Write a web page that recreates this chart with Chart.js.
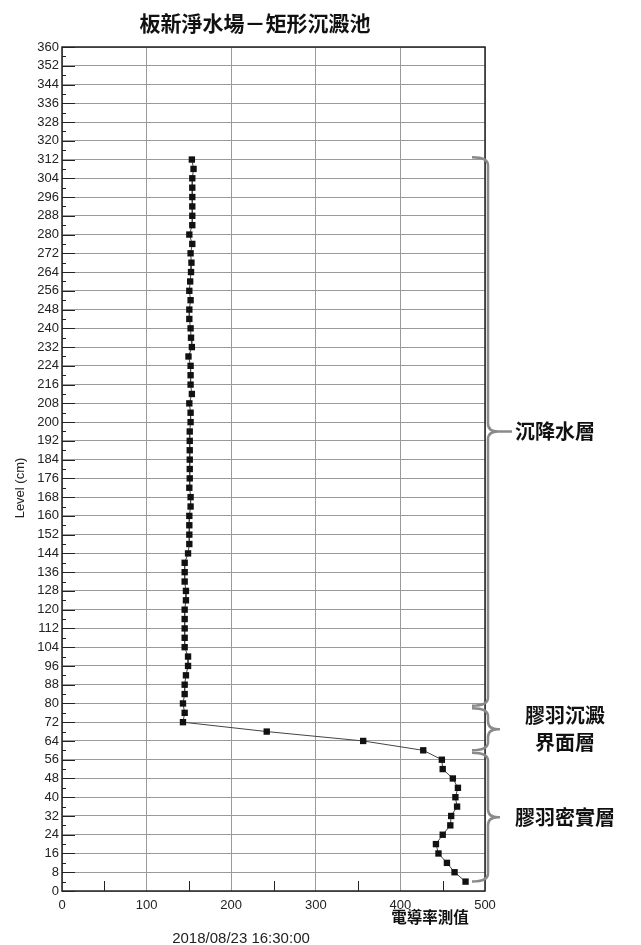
<!DOCTYPE html>
<html>
<head>
<meta charset="utf-8">
<script src="https://cdn.jsdelivr.net/npm/chart.js@4.4.0/dist/chart.umd.min.js"></script>
<style>
  html, body { margin: 0; padding: 0; background: #fff; }
  #wrap { width: 641px; height: 945px; }
</style>
</head>
<body>
<div id="wrap"><canvas id="chart" width="641" height="945"></canvas></div>
<script>
// level of each reading (cm), top to bottom
const levels = [
  312, 308, 304, 300, 296, 292, 288, 284, 280, 276, 272, 268, 264, 260, 256, 252,
  248, 244, 240, 236, 232, 228, 224, 220, 216, 212, 208, 204, 200, 196, 192, 188,
  184, 180, 176, 172, 168, 164, 160, 156, 152, 148, 144, 140, 136, 132, 128, 124,
  120, 116, 112, 108, 104, 100, 96, 92, 88, 84, 80, 76, 72, 68, 64, 60,
  56, 52, 48, 44, 40, 36, 32, 28, 24, 20, 16, 12, 8, 4
];
// conductivity reading at each level
const conductivity = [
  153.5, 155.5, 154, 154, 154, 154, 154, 154, 150.5, 154, 152, 153, 152.5, 151.5, 150.5, 152,
  150.5, 150.5, 152, 152.5, 153.5, 149.5, 152, 152, 152, 153.5, 150.5, 152, 152, 151, 151, 151,
  151, 151, 151, 150.5, 152, 152, 150.5, 150.5, 150.5, 150.5, 149, 145, 145, 145, 146.5, 146.5,
  145, 145, 145, 145, 145, 149, 149, 146.5, 145, 145, 143, 145, 143, 242, 356, 427,
  449, 450, 462, 468, 465, 467, 460, 459, 450, 442, 445, 455, 464, 477
];

const xTickLabels = [0, 100, 200, 300, 400, 500];
const yLabelStep = 8;

// layer brackets on the right side
const layerNames = [['沉降水層'], ['膠羽沉澱', '界面層'], ['膠羽密實層']];
const layerRanges = [[313, 79], [78, 60], [59, 4]];

const chartTitle = '板新淨水場－矩形沉澱池';
const xTitle = '電導率測值';
const yTitle = 'Level (cm)';
const timeStamp = '2018/08/23 16:30:00';

const CJK = "'Noto Sans CJK TC', 'Noto Sans CJK SC', sans-serif";
const LATIN = "'Liberation Sans', Arial, sans-serif";

const points = levels.map((lv, i) => ({ x: conductivity[i], y: lv }));

const decorPlugin = {
  id: 'decor',
  afterDraw(chart) {
    const ctx = chart.ctx;
    const area = chart.chartArea;
    const xs = chart.scales.x;
    const ys = chart.scales.y;
    ctx.save();

    // inward tick marks
    ctx.strokeStyle = '#222';
    ctx.lineWidth = 1;
    ys.ticks.forEach(t => {
      const y = Math.round(ys.getPixelForValue(t.value)) + 0.5;
      const len = t.value % yLabelStep === 0 ? 13 : 4;
      ctx.beginPath();
      ctx.moveTo(area.left, y);
      ctx.lineTo(area.left + len, y);
      ctx.stroke();
    });
    xs.ticks.forEach(t => {
      if (xTickLabels.includes(t.value)) return;
      const x = Math.round(xs.getPixelForValue(t.value)) + 0.5;
      ctx.beginPath();
      ctx.moveTo(x, area.bottom);
      ctx.lineTo(x, area.bottom - 10);
      ctx.stroke();
    });

    // plot frame
    ctx.strokeStyle = '#222';
    ctx.lineWidth = 1.5;
    ctx.strokeRect(area.left, area.top, area.right - area.left, area.bottom - area.top);

    // title
    ctx.fillStyle = '#111';
    ctx.textAlign = 'center';
    ctx.textBaseline = 'middle';
    ctx.font = 'bold 21px ' + CJK;
    ctx.fillText(chartTitle, 255, 23);

    // axis titles
    ctx.font = 'bold 15.5px ' + CJK;
    ctx.fillText(xTitle, 430, 917);
    ctx.font = '15px ' + LATIN;
    ctx.fillStyle = '#222';
    ctx.fillText(timeStamp, 241, 939);

    ctx.save();
    ctx.translate(20, 488);
    ctx.rotate(-Math.PI / 2);
    ctx.font = '13px ' + LATIN;
    ctx.fillText(yTitle, 0, 0);
    ctx.restore();

    // braces
    const bx = area.right + 3;
    ctx.strokeStyle = '#8a8a8a';
    ctx.lineWidth = 2.5;
    layerRanges.forEach((r, i) => {
      const yTop = ys.getPixelForValue(r[0]);
      const yBot = ys.getPixelForValue(r[1]);
      const yMid = (yTop + yBot) / 2;
      const c = Math.min(8, (yBot - yTop) / 4);
      const tip = i === 0 ? 24 : 12;
      ctx.beginPath();
      ctx.moveTo(bx - 16, yTop);
      ctx.quadraticCurveTo(bx, yTop, bx, yTop + c);
      ctx.lineTo(bx, yMid - c);
      ctx.quadraticCurveTo(bx, yMid, bx + 10, yMid);
      ctx.lineTo(bx + tip, yMid);
      ctx.moveTo(bx + 10, yMid);
      ctx.quadraticCurveTo(bx, yMid, bx, yMid + c);
      ctx.lineTo(bx, yBot - c);
      ctx.quadraticCurveTo(bx, yBot, bx - 16, yBot);
      ctx.stroke();

      ctx.fillStyle = '#111';
      ctx.font = 'bold 20px ' + CJK;
      const names = layerNames[i];
      const lh = 27;
      names.forEach((n, k) => {
        const y = yMid + (k - (names.length - 1) / 2) * lh;
        ctx.textAlign = i === 0 ? 'left' : 'center';
        ctx.fillText(n, i === 0 ? 515 : 565, y);
      });
    });

    ctx.restore();
  }
};

new Chart(document.getElementById('chart'), {
  type: 'scatter',
  data: {
    datasets: [{
      data: points,
      showLine: true,
      borderColor: '#444',
      borderWidth: 1,
      pointStyle: 'rect',
      pointRadius: 4.5,
      pointBackgroundColor: '#111',
      pointBorderColor: '#111',
      pointBorderWidth: 0,
      tension: 0
    }]
  },
  plugins: [decorPlugin],
  options: {
    responsive: false,
    animation: false,
    devicePixelRatio: 1,
    layout: { padding: { left: 0, top: 47, right: 156, bottom: 24 } },
    plugins: {
      legend: { display: false },
      title: { display: false },
      tooltip: { enabled: false }
    },
    scales: {
      x: {
        type: 'linear',
        min: 0,
        max: 500,
        afterFit: s => { s.height = 30; },
        ticks: {
          stepSize: 50,
          autoSkip: false,
          maxRotation: 0,
          padding: 7,
          color: '#222',
          font: { family: LATIN, size: 13 },
          callback: v => xTickLabels.includes(v) ? String(v) : ''
        },
        grid: {
          drawTicks: false,
          lineWidth: 1,
          color: c => (c.tick && xTickLabels.includes(c.tick.value)) ? '#9a9a9a' : 'rgba(0,0,0,0)'
        },
        border: { display: false }
      },
      y: {
        type: 'linear',
        min: 0,
        max: 360,
        afterFit: s => { s.width = 62; },
        ticks: {
          stepSize: 4,
          autoSkip: false,
          padding: 3,
          color: '#222',
          font: { family: LATIN, size: 13 },
          callback: v => v % yLabelStep === 0 ? String(v) : ''
        },
        grid: {
          drawTicks: false,
          lineWidth: 1,
          color: c => (c.tick && c.tick.value % yLabelStep === 0) ? '#9a9a9a' : 'rgba(0,0,0,0)'
        },
        border: { display: false }
      }
    }
  }
});
</script>
</body>
</html>
